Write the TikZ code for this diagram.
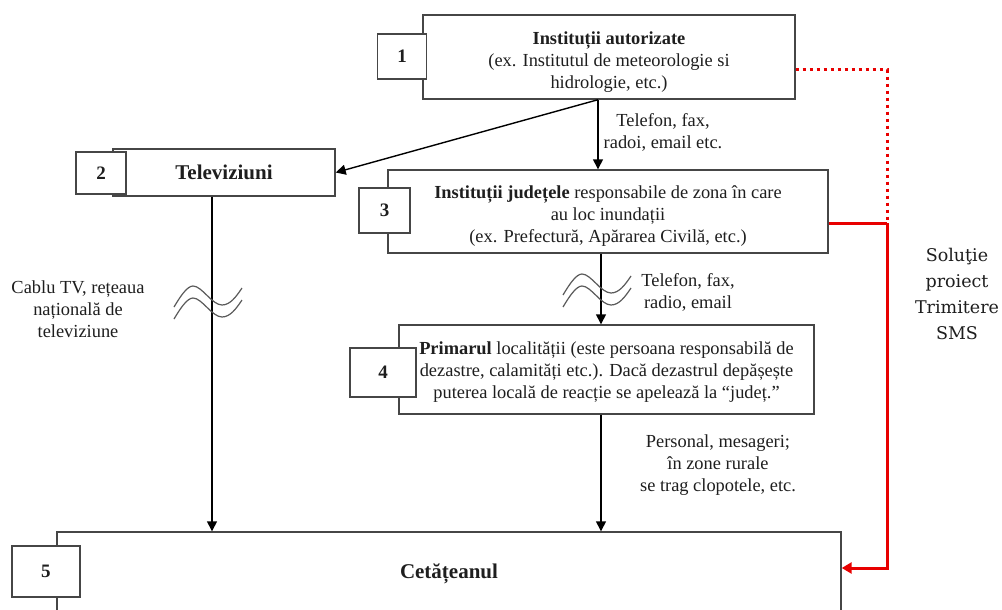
\documentclass[tikz,border=0pt]{standalone}
\usepackage{fontspec}
\setmainfont{Liberation Serif}
\newfontfamily\smsfamily{DejaVu Serif}
\usetikzlibrary{arrows.meta,calc}

\newcommand\bodysize{\fontsize{18.4}{22}\selectfont}
\newcommand\titlesize{\fontsize{21}{24}\selectfont}
\newcommand\smssize{\smsfamily\fontsize{17.5}{26}\selectfont}
% centred block of lines, lowered inside its box without changing the box size
\newcommand\lowblock[2]{\raisebox{-#1}[\height][\depth]{\begin{tabular}{@{}c@{}}#2\end{tabular}}}

\definecolor{edge}{RGB}{70,70,70}
\definecolor{ink}{RGB}{30,30,30}
\definecolor{wavecol}{RGB}{90,90,90}
\definecolor{alert}{RGB}{232,0,0}

\tikzset{
  box/.style={draw=edge, line width=1.4pt, fill=white, align=center,
    inner sep=0pt, text=ink, font=\bodysize},
  numbox/.style={box, font=\fontsize{19}{22}\selectfont\bfseries},
  lbl/.style={align=center, inner sep=0pt, text=ink, font=\bodysize},
  arr/.style={line width=1.4pt, draw=black,
    -{Triangle[length=10pt,width=10pt]}},
  reddot/.style={draw=alert, line width=3pt, dash pattern=on 3pt off 4pt},
  redline/.style={draw=alert, line width=3pt},
  redarr/.style={redline, -{Triangle[length=10pt,width=11pt]}},
  wave/.pic={
    \foreach \d in {0,12}{
      \draw[wavecol, line width=1.2pt]
        (-38,12+\d) .. controls (-32,2+\d) and (-25,-9+\d) .. (-19,-9+\d)
        .. controls (-10,-9+\d) and (0,10+\d) .. (10,10+\d)
        .. controls (18,10+\d) and (24,2+\d) .. (30,-7+\d);
    }
  }
}

\begin{document}
\begin{tikzpicture}[x=1pt, y=-1pt]
\useasboundingbox (0,0) rectangle (1002,610);
\fill[white] (0,0) rectangle (1002,610);
\clip (0,0) rectangle (1002,610);

% main boxes
\node[box, minimum width=372pt, minimum height=84pt] (b1) at (609,57)
  {\lowblock{5pt}{\textbf{Instituții autorizate}\\(ex. Institutul de meteorologie si\\hidrologie, etc.)}};
\node[box, minimum width=222pt, minimum height=47pt, font=\titlesize] (b2) at (224,172.5)
  {\textbf{Televiziuni}};
\node[box, minimum width=440pt, minimum height=83pt] (b3) at (608,211.5)
  {\lowblock{5pt}{\textbf{Instituții județele} responsabile de zona în care\\au loc inundații\\(ex. Prefectură, Apărarea Civilă, etc.)}};
\node[box, minimum width=415pt, minimum height=89pt] (b4) at (606.5,369.5)
  {\lowblock{3pt}{\textbf{Primarul} localității (este persoana responsabilă de\\dezastre, calamități etc.). Dacă dezastrul depășește\\puterea locală de reacție se apelează la “județ.”}};
\node[box, minimum width=784pt, minimum height=84pt, font=\titlesize] (b5) at (449,574)
  {\textbf{Cetățeanul}};

% numbered tabs
\node[numbox, minimum width=49pt, minimum height=45pt] (n1) at (402,56.5) {1};
\node[numbox, minimum width=50pt, minimum height=42pt] (n2) at (101,173) {2};
\node[numbox, minimum width=51pt, minimum height=45pt] (n3) at (384.5,210.5) {3};
\node[numbox, minimum width=66pt, minimum height=49pt] (n4) at (383,372.5) {4};
\node[numbox, minimum width=68pt, minimum height=51pt] (n5) at (46,571.5) {5};

% black connectors
\coordinate (tap) at ([xshift=-11pt]b1.south);
\draw[arr] (tap) -- (tap |- b3.north);
\draw[arr] (tap) -- (b2.east);
\coordinate (tv) at ([xshift=-12pt]b2.south);
\draw[arr] (tv) -- (tv |- b5.north);
\coordinate (jd) at ([xshift=-7pt]b3.south);
\draw[arr] (jd) -- (jd |- b4.north);
\coordinate (pr) at ([xshift=-5.5pt]b4.south);
\draw[arr] (pr) -- (pr |- b5.north);

% wireless marks
\pic at (212,295) {wave};
\pic at (601,283) {wave};

% red SMS route
\coordinate (rj) at (887,223);
\draw[reddot] ([yshift=-13pt]b1.east) -| (rj);
\draw[redline] ([yshift=-11.5pt]b3.east) -- (rj);
\draw[redarr] (rj) |- ([yshift=6pt]b5.east);

% channel labels
\node[lbl] (l1) at (663,132) {Telefon, fax,\\radoi, email etc.};
\node[lbl] (l2) at (78,309) {Cablu TV, rețeaua\\națională de\\televiziune};
\node[lbl] (l3) at (688,292) {Telefon, fax,\\radio, email};
\node[lbl] (l4) at (718,465) {Personal, mesageri;\\în zone rurale\\se trag clopotele, etc.};
\node[align=center, inner sep=0pt, text=ink, font=\smssize] (l5) at (957,294)
  {Soluţie\\proiect\\Trimitere\\SMS};
\end{tikzpicture}
\end{document}
